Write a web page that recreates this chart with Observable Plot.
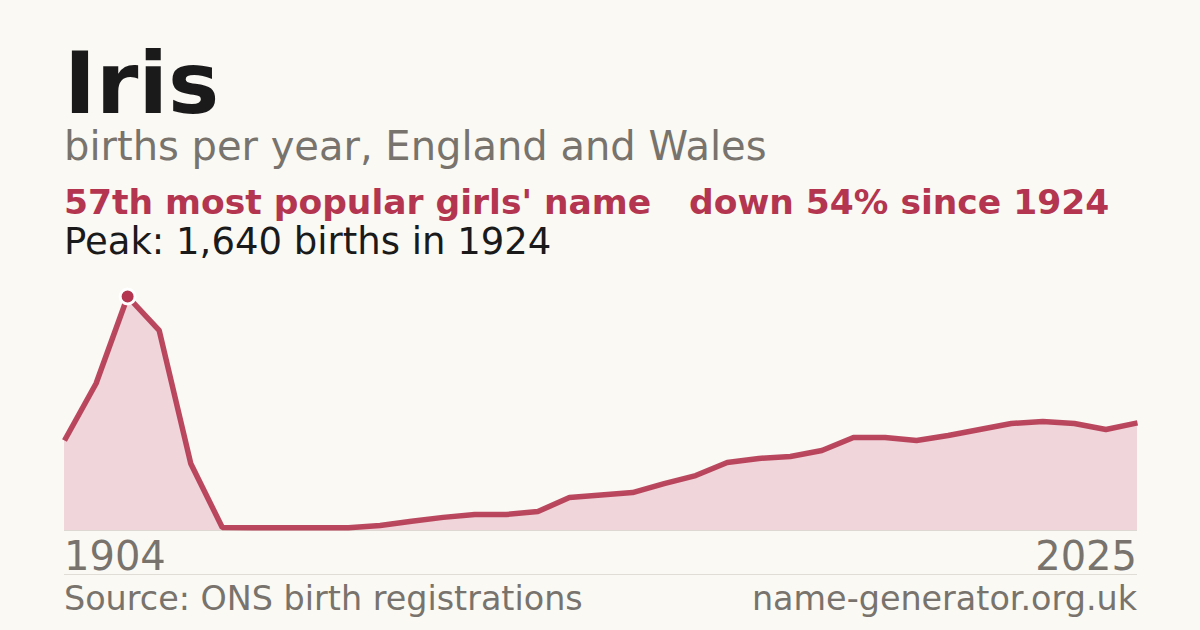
<!DOCTYPE html>
<html>
<head>
<meta charset="utf-8">
<script src="https://cdn.jsdelivr.net/npm/d3@7"></script>
<script src="https://cdn.jsdelivr.net/npm/@observablehq/plot@0.6"></script>
<style>
  html, body { margin: 0; padding: 0; background: #faf9f4; }
  #wrap { position: relative; width: 1200px; height: 630px; overflow: hidden; font-family: "DejaVu Sans", sans-serif; }
  #chart { position: absolute; left: 0; top: 270px; }
  #overlay { position: absolute; left: 0; top: 0; }
</style>
</head>
<body>
<div id="wrap"><div id="chart"></div><svg id="overlay" width="1200" height="630"></svg></div>
<script>
// ---- data ----
const years = [1904,1914,1924,1934,1944,1954,1964,1974,1984,1994,
  2001,2002,2003,2004,2005,2006,2007,2008,2009,2010,2011,2012,2013,2014,2015,
  2016,2017,2018,2019,2020,2021,2022,2023,2024,2025];
const births = [631,1030,1640,1402,470,21,20,20,20,20,
  35,65,92,112,112,133,231,249,266,329,385,477,505,519,561,
  652,652,631,666,708,750,764,750,708,754];
const peakYear = 1924;
const peakValue = 1640;
const titleText = "Iris";
const subtitleText = "births per year, England and Wales";
const rankText = "57th most popular girls' name";
const changeText = "down 54% since 1924";
const peakText = "Peak: 1,640 births in 1924";
const axisLabels = ["1904", "2025"];
const sourceText = "Source: ONS birth registrations";
const siteText = "name-generator.org.uk";

const red = "#b3354f";
const grey = "#78736c";

const table = years.map((y, i) => ({i, year: y, v: births[i]}));
const peak = table.filter(d => d.year === peakYear);

const chart = Plot.plot({
  width: 1200,
  height: 290,
  marginTop: 26,
  marginBottom: 30,
  marginLeft: 64,
  marginRight: 63,
  style: {background: "transparent", overflow: "visible"},
  x: {type: "linear", domain: [0, years.length - 1], axis: null},
  y: {domain: [0, peakValue], axis: null},
  marks: [
    Plot.areaY(table, {x: "i", y: "v", fill: "#f0d5da"}),
    Plot.ruleY([0], {stroke: "#ddd9d2", strokeWidth: 1}),
    Plot.lineY(table, {x: "i", y: "v", stroke: red, strokeWidth: 5.5, strokeOpacity: 0.9, strokeLinejoin: "miter", strokeLinecap: "butt"}),
    Plot.dot(peak, {x: "i", y: "v", r: 7.5, fill: red, stroke: "#ffffff", strokeWidth: 3})
  ]
});
document.getElementById("chart").appendChild(chart);

const ov = d3.select("#overlay");
const font = "DejaVu Sans, sans-serif";
function t(x, y, txt, size, color, weight, anchor) {
  ov.append("text").attr("x", x).attr("y", y).attr("font-family", font)
    .attr("font-size", size).attr("fill", color).attr("font-weight", weight || "normal")
    .attr("text-anchor", anchor || "start").text(txt);
}
t(64, 113, titleText, 86, "#1a1a1a", "bold");
t(64, 160, subtitleText, 40, grey);
t(64, 214, rankText, 34.5, red, "bold");
t(689, 214, changeText, 34.5, red, "bold");
t(64, 254, peakText, 37, "#1a1a1a");
t(64, 570, axisLabels[0], 40, grey);
t(1137, 570, axisLabels[1], 40, grey, "normal", "end");
ov.append("line").attr("x1", 64).attr("x2", 1137).attr("y1", 574.5).attr("y2", 574.5).attr("stroke", "#e0ddd6").attr("stroke-width", 1);
t(64, 610, sourceText, 33.4, grey);
t(1137, 610, siteText, 33.4, grey, "normal", "end");
</script>
</body>
</html>
